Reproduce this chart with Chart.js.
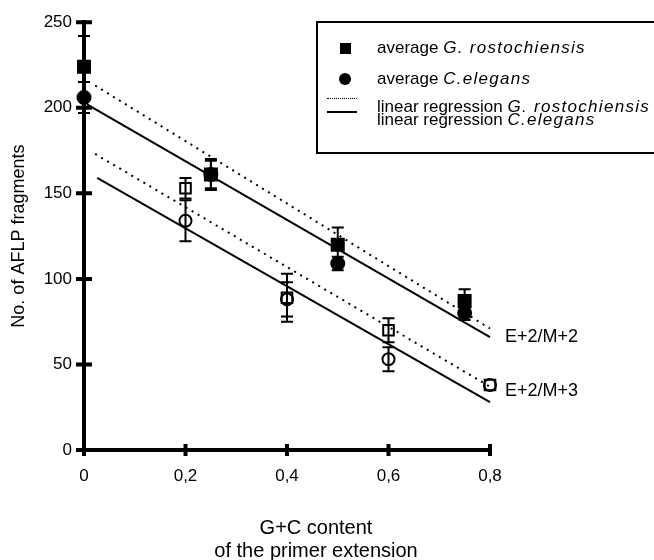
<!DOCTYPE html>
<html>
<head>
<meta charset="utf-8">
<script src="https://cdn.jsdelivr.net/npm/chart.js@4.4.1/dist/chart.umd.min.js"></script>
<style>
  body{margin:0;background:#fff;font-family:"Liberation Sans",Arial,sans-serif;color:#000;}
  #wrap{position:relative;width:654px;height:560px;}
  #legend{position:absolute;left:316px;top:21px;width:336px;height:129px;border:2px solid #000;box-sizing:content-box;}
  .lt{position:absolute;left:59px;font-size:17px;line-height:18px;white-space:nowrap;}
  .lt i{letter-spacing:1.3px;}
  .grp{position:absolute;font-size:18px;line-height:20px;white-space:nowrap;}
  #xtitle{position:absolute;left:190px;width:252px;top:516px;text-align:center;font-size:20px;line-height:23px;}
</style>
</head>
<body>
<div id="wrap">
  <canvas id="chart" width="654" height="560"></canvas>
  <div id="legend">
    <div style="position:absolute;left:22px;top:20px;width:11px;height:11px;background:#000"></div>
    <div class="lt" style="top:16px">average <i>G. rostochiensis</i></div>
    <div style="position:absolute;left:21px;top:50px;width:12px;height:12px;border-radius:50%;background:#000"></div>
    <div class="lt" style="top:47px">average <i>C.elegans</i></div>
    <div style="position:absolute;left:9px;top:75px;width:30px;border-top:1px dotted #000"></div>
    <div class="lt" style="top:75px">linear regression <i>G. rostochiensis</i></div>
    <div style="position:absolute;left:9px;top:88px;width:30px;border-top:2px solid #000"></div>
    <div class="lt" style="top:88px">linear regression <i>C.elegans</i></div>
  </div>
  <div class="grp" style="left:505px;top:326px">E+2/M+2</div>
  <div class="grp" style="left:505px;top:380px">E+2/M+3</div>
  <div id="xtitle">G+C content<br>of the primer extension</div>
</div>
<script>
// E+2/M+2 primer combinations (filled symbols)
const xM2 = [0, 0.25, 0.5, 0.75];
const grM2 = [224, 161, 120, 87];
const grM2Err = [18, 9, 10, 7];
const ceM2 = [206, 161, 109, 80];
const ceM2Err = [9, 8, 4, 4];

// E+2/M+3 primer combinations (open symbols)
const xM3 = [0.2, 0.4, 0.6, 0.8];
const grM3 = [153, 89, 70, 38];
const grM3Err = [6, 14, 7, 0];
const ceM3 = [134, 88, 53, 38];
const ceM3Err = [12, 10, 7, 0];

// regression line end points
const regGrM2X = [0.022, 0.8], regGrM2Y = [213, 71];
const regCeM2X = [0.006, 0.8], regCeM2Y = [202, 66];
const regGrM3X = [0.022, 0.8], regGrM3Y = [173, 37];
const regCeM3X = [0.026, 0.8], regCeM3Y = [159, 28];

const xTicks = [0, 0.2, 0.4, 0.6, 0.8];
const xTickLabels = ['0', '0,2', '0,4', '0,6', '0,8'];
const yTicks = [0, 50, 100, 150, 200, 250];

const pts = (xs, ys) => xs.map((x, i) => ({x: x, y: ys[i]}));

// error bars + ticks crossing the axis lines
const extras = {
  id: 'extras',
  beforeDatasetsDraw(chart){
    const ctx = chart.ctx, xs = chart.scales.x, ys = chart.scales.y;
    ctx.save();
    ctx.strokeStyle = '#000';
    ctx.lineWidth = 2;
    chart.data.datasets.forEach(ds => {
      if (!ds.errors) return;
      ds.data.forEach((p, i) => {
        const e = ds.errors[i];
        if (!e) return;
        const px = xs.getPixelForValue(p.x);
        const t = ys.getPixelForValue(p.y + e), b = ys.getPixelForValue(p.y - e);
        ctx.beginPath();
        ctx.moveTo(px, t); ctx.lineTo(px, b);
        ctx.moveTo(px - 6, t); ctx.lineTo(px + 6, t);
        ctx.moveTo(px - 6, b); ctx.lineTo(px + 6, b);
        ctx.stroke();
      });
    });
    ctx.restore();
  },
  afterDraw(chart){
    const ctx = chart.ctx, xs = chart.scales.x, ys = chart.scales.y;
    const a = chart.chartArea;
    ctx.save();
    ctx.strokeStyle = '#000';
    ctx.lineWidth = 4;
    ctx.beginPath();
    yTicks.forEach(v => {
      const py = ys.getPixelForValue(v);
      ctx.moveTo(a.left - 8, py); ctx.lineTo(a.left + 8, py);
    });
    xTicks.forEach(v => {
      const px = xs.getPixelForValue(v);
      ctx.moveTo(px, a.bottom - 6); ctx.lineTo(px, a.bottom + 6);
    });
    ctx.stroke();
    ctx.restore();
  }
};

const markerBase = {showLine: false, borderColor: '#000', borderWidth: 2, clip: false};

new Chart(document.getElementById('chart'), {
  type: 'scatter',
  data: {
    datasets: [
      {label: 'reg G. rostochiensis M+2', data: pts(regGrM2X, regGrM2Y), showLine: true, pointRadius: 0, borderColor: '#000', borderWidth: 2, borderDash: [2, 5], clip: false},
      {label: 'reg C.elegans M+2', data: pts(regCeM2X, regCeM2Y), showLine: true, pointRadius: 0, borderColor: '#000', borderWidth: 2, clip: false},
      {label: 'reg G. rostochiensis M+3', data: pts(regGrM3X, regGrM3Y), showLine: true, pointRadius: 0, borderColor: '#000', borderWidth: 2, borderDash: [2, 5], clip: false},
      {label: 'reg C.elegans M+3', data: pts(regCeM3X, regCeM3Y), showLine: true, pointRadius: 0, borderColor: '#000', borderWidth: 2, clip: false},
      Object.assign({label: 'G. rostochiensis M+2', data: pts(xM2, grM2), errors: grM2Err, pointStyle: 'rect', pointRadius: 8.5, backgroundColor: '#000'}, markerBase),
      Object.assign({label: 'C.elegans M+2', data: pts(xM2, ceM2), errors: ceM2Err, pointStyle: 'circle', pointRadius: 6.5, backgroundColor: '#000'}, markerBase),
      Object.assign({label: 'G. rostochiensis M+3', data: pts(xM3, grM3), errors: grM3Err, pointStyle: 'rect', pointRadius: 7.5, backgroundColor: 'rgba(0,0,0,0)'}, markerBase),
      Object.assign({label: 'C.elegans M+3', data: pts(xM3, ceM3), errors: ceM3Err, pointStyle: 'circle', pointRadius: 6, backgroundColor: 'rgba(0,0,0,0)'}, markerBase)
    ]
  },
  options: {
    responsive: false,
    animation: false,
    devicePixelRatio: 1,
    layout: {padding: {top: 20, right: 164, left: 0, bottom: 0}},
    plugins: {legend: {display: false}, tooltip: {enabled: false}},
    scales: {
      x: {
        type: 'linear', min: 0, max: 0.8,
        afterBuildTicks: s => { s.ticks = xTicks.map(v => ({value: v})); },
        afterFit: s => { s.height = 110; },
        grid: {drawOnChartArea: false, drawTicks: false},
        border: {display: true, width: 4, color: '#000'},
        ticks: {
          padding: 16, color: '#000', maxRotation: 0,
          font: {family: '"Liberation Sans", Arial, sans-serif', size: 17},
          callback: (v, i) => xTickLabels[i]
        }
      },
      y: {
        min: 0, max: 250,
        afterBuildTicks: s => { s.ticks = yTicks.map(v => ({value: v})); },
        afterFit: s => { s.width = 84; },
        grid: {drawOnChartArea: false, drawTicks: false},
        border: {display: true, width: 4, color: '#000'},
        ticks: {padding: 12, color: '#000', font: {family: '"Liberation Sans", Arial, sans-serif', size: 17}},
        title: {display: true, text: 'No. of AFLP fragments', color: '#000', padding: {top: 8, bottom: 0},
          font: {family: '"Liberation Sans", Arial, sans-serif', size: 18}}
      }
    }
  },
  plugins: [extras]
});
</script>
</body>
</html>
